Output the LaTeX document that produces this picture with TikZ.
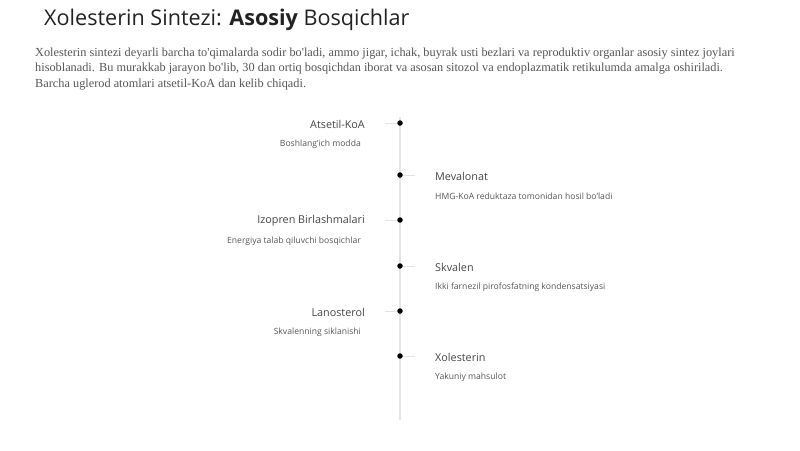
\documentclass[tikz,border=0pt]{standalone}
\usepackage{fontspec}
\setmainfont{Open Sans}
\newfontfamily\parafont{Liberation Serif}
\usetikzlibrary{positioning}

\definecolor{titlegray}{HTML}{222222}
\definecolor{paragray}{HTML}{555555}
\definecolor{stepgray}{HTML}{444444}
\definecolor{linegray}{HTML}{E4E4E4}

\tikzset{
  stepdot/.style={circle, fill=black, inner sep=0pt, minimum size=5.5pt},
  steptitle/.style={font=\fontsize{10.8}{12}\selectfont, text=stepgray, inner sep=0pt},
  stepnote/.style={font=\fontsize{8.6}{10}\selectfont, text=paragray, inner sep=0pt},
  tick/.style={draw=linegray, line width=1pt}
}

\begin{document}
\begin{tikzpicture}[x=1pt, y=-1pt]
        \useasboundingbox (0,0) rectangle (800,450);

        % Title
        \node[anchor=west, inner sep=0pt, text=titlegray, font=\fontsize{21.6}{24}\selectfont]
            (title) at (44,20) {Xolesterin Sintezi: \textbf{Asosiy} Bosqichlar};

        % Intro paragraph
        \node[anchor=north west, inner sep=0pt, text=paragray, align=left,
              font=\parafont\fontsize{12.3}{15.5}\selectfont] (intro) at (35,47.5)
            {Xolesterin sintezi deyarli barcha to'qimalarda sodir bo'ladi, ammo jigar, ichak, buyrak usti bezlari va reproduktiv organlar asosiy sintez joylari\\
             hisoblanadi. Bu murakkab jarayon bo'lib, 30 dan ortiq bosqichdan iborat va asosan sitozol va endoplazmatik retikulumda amalga oshiriladi.\\
             Barcha uglerod atomlari atsetil-KoA dan kelib chiqadi.};

        % Timeline axis
        \coordinate (axtop) at (400,117);
        \coordinate (axbot) at (400,420);
        \draw[linegray, line width=1.2pt] (axtop) -- (axbot);

        % Left steps
        \foreach \n/\y/\name/\note in {
            1/123/Atsetil-KoA/Boshlang'ich modda,
            3/220/Izopren Birlashmalari/Energiya talab qiluvchi bosqichlar,
            5/311/Lanosterol/Skvalenning siklanishi} {
            \node[stepdot] (dot\n) at (400,\y) {};
            \coordinate (tk\n) at (385,\y);
            \draw[tick] (tk\n) -- (dot\n);
            \node[steptitle, anchor=east] (st\n) at (365,\y+1) {\name};
            \node[stepnote, anchor=east] (sn\n) at (361,\y+21) {\note};
        }

        % Right steps
        \foreach \n/\y/\name/\note in {
            2/175/Mevalonat/HMG-KoA reduktaza tomonidan hosil bo'ladi,
            4/266/Skvalen/Ikki farnezil pirofosfatning kondensatsiyasi,
            6/356/Xolesterin/Yakuniy mahsulot} {
            \node[stepdot] (dot\n) at (400,\y) {};
            \coordinate (tk\n) at (415,\y);
            \draw[tick] (dot\n) -- (tk\n);
            \node[steptitle, anchor=west] (st\n) at (435,\y+1) {\name};
            \node[stepnote, anchor=west] (sn\n) at (435,\y+21) {\note};
        }

    \end{tikzpicture}
\end{document}
